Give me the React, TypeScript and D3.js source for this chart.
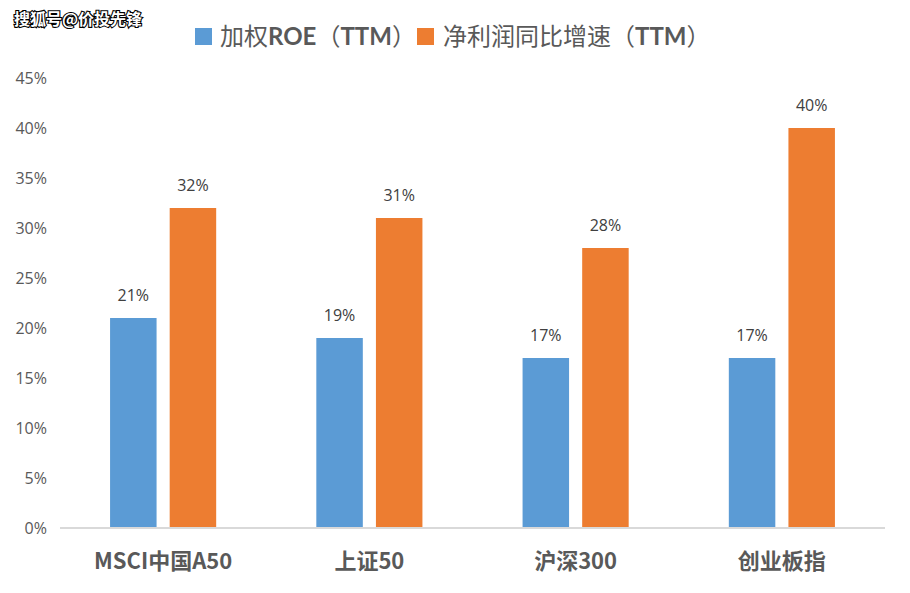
import React from "react";
import * as d3 from "d3";

const categories = ["MSCI中国A50", "上证50", "沪深300", "创业板指"];
const seriesNames = [
  [["加权", false], ["ROE", true], ["（", false], ["TTM", true], ["）", false]],
  [["净利润同比增速", false], ["（", false], ["TTM", true], ["）", false]],
] as [string, boolean][][];
const roeValues = [21, 19, 17, 17];
const profitGrowth = [32, 31, 28, 40];
const yTicks = [0, 5, 10, 15, 20, 25, 30, 35, 40, 45];
const colors = ["#5B9BD5", "#ED7D31"];

const W = 910;
const H = 593;
const FONT = "'Noto Sans CJK SC', 'Noto Sans', sans-serif";
const LATIN = "'Open Sans', 'Noto Sans', sans-serif";
const LEGEND_LATIN = "Lato, 'Open Sans', sans-serif";

export default function App() {
  const x0 = d3.scaleBand<string>().domain(categories).range([60, 885]).padding(0);
  const x1 = d3
    .scaleBand<string>()
    .domain(["0", "1"])
    .range([0, x0.bandwidth()])
    .paddingInner(0.22)
    .paddingOuter(0.84);
  const y = d3.scaleLinear().domain([0, 45]).range([528, 78]);
  const series = [roeValues, profitGrowth];
  const legendX = [[195, 220], [417, 443]];

  return (
    <svg
      width={W}
      height={H}
      style={{ position: "absolute", left: 0, top: 0, background: "#fff" }}
      fontFamily={FONT}
    >
      <rect x={0} y={0} width={W} height={H} fill="#fff" />
      {/* watermark */}
      <text
        x={14}
        y={25}
        fontSize={16}
        fontWeight="bold"
        fill="#fff"
        stroke="#000"
        strokeWidth={2.2}
        paintOrder="stroke"
      >
        搜狐号@价投先锋
      </text>
      {/* legend */}
      {seriesNames.map((parts, i) => (
        <g key={i}>
          <rect x={legendX[i][0]} y={28} width={17} height={17} fill={colors[i]} />
          <text x={legendX[i][1]} y={45} fontSize={24} fill="#595959">
            {parts.map(([s, b], j) => (
              <tspan
                key={j}
                fontWeight={b ? "bold" : "normal"}
                fontFamily={b ? LEGEND_LATIN : FONT}
              >
                {s}
              </tspan>
            ))}
          </text>
        </g>
      ))}
      {/* y axis labels */}
      {yTicks.map((t) => (
        <text
          key={t}
          x={47}
          y={y(t)}
          dy="0.35em"
          textAnchor="end"
          fontSize={16}
          fill="#595959"
          fontFamily={LATIN}
        >
          {t}%
        </text>
      ))}
      {/* bars */}
      {categories.map((c, ci) => (
        <g key={c} transform={`translate(${x0(c)},0)`}>
          {series.map((vals, si) => {
            const bx = x1(String(si))!;
            const bw = x1.bandwidth();
            return (
              <g key={si}>
                <rect
                  x={bx}
                  y={y(vals[ci])}
                  width={bw}
                  height={y(0) - y(vals[ci])}
                  fill={colors[si]}
                />
                <text
                  x={bx + bw / 2}
                  y={y(vals[ci]) - 17}
                  textAnchor="middle"
                  fontSize={16}
                  fill="#404040"
                  fontFamily={LATIN}
                >
                  {vals[ci]}%
                </text>
              </g>
            );
          })}
        </g>
      ))}
      {/* axis line */}
      <line x1={60} x2={885} y1={528} y2={528} stroke="#D9D9D9" strokeWidth={2} />
      {/* category labels */}
      {categories.map((c) => (
        <text
          key={c}
          x={x0(c)! + x0.bandwidth() / 2}
          y={569}
          textAnchor="middle"
          fontSize={22}
          fontWeight="bold"
          fill="#595959"
        >
          {c}
        </text>
      ))}
    </svg>
  );
}
